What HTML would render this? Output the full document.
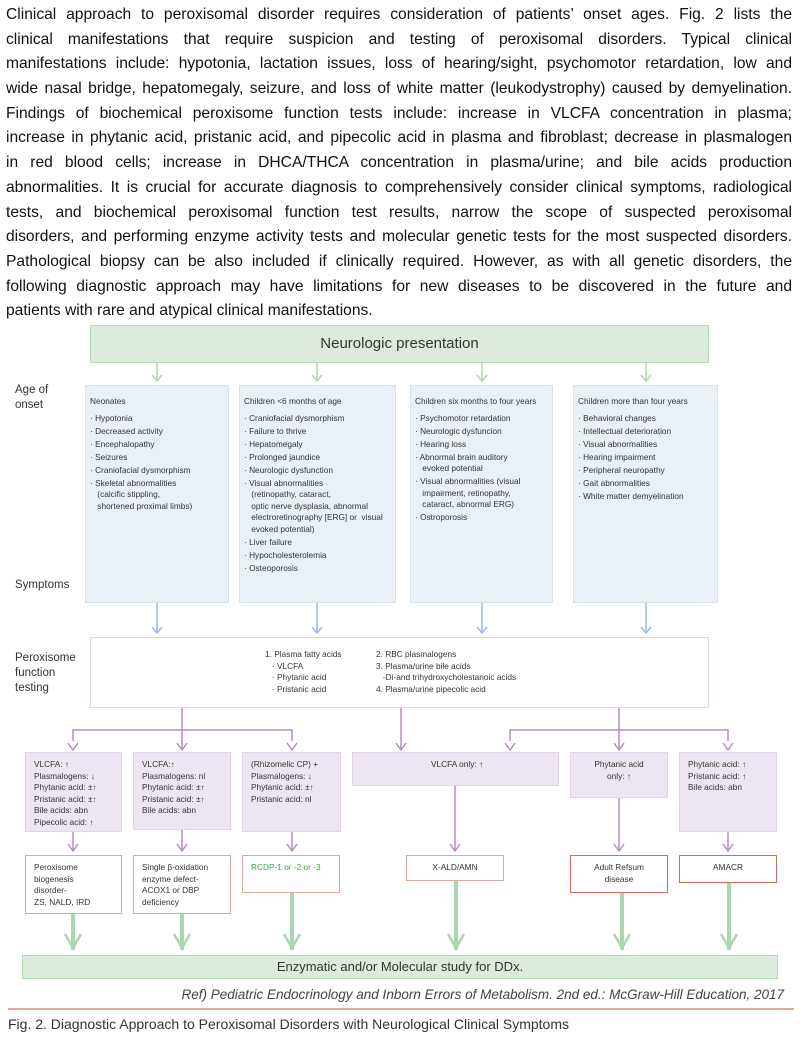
<!DOCTYPE html>
<html><head><meta charset="utf-8"><style>
body{margin:0;width:800px;height:1048px;background:#fff;position:relative;overflow:hidden;font-family:"Liberation Sans",Arial,sans-serif;color:#222}
.p{position:absolute;left:6px;width:786px;font-size:15.6px;line-height:24.7px;top:3px;color:#111}
.p div{text-align:justify;text-align-last:justify;white-space:nowrap;height:24.7px}
.p div.l{text-align-last:left}
.b{position:absolute;box-sizing:border-box;font-size:8.3px;line-height:11.5px;color:#333}
.sym{background:#eaf0f7;border:1px solid #d8e2ee;padding:10px 4px;white-space:nowrap}
.sym .h{margin-bottom:5px}
.sym .i{padding-left:5px;text-indent:-5px;margin-bottom:1.5px}
.lv3{background:#ede6f2;border:1px solid #e0d4ea;padding:6px 8px}
.lv4{background:#fff;border:1px solid #e6a49a;padding:6px 8px}
.lbl{position:absolute;font-size:11.5px;line-height:15px;color:#333;left:15px}
</style></head><body>
<div class="p">
<div>Clinical approach to peroxisomal disorder requires consideration of patients’ onset ages. Fig. 2 lists the</div>
<div>clinical manifestations that require suspicion and testing of peroxisomal disorders. Typical clinical</div>
<div>manifestations include: hypotonia, lactation issues, loss of hearing/sight, psychomotor retardation, low and</div>
<div>wide nasal bridge, hepatomegaly, seizure, and loss of white matter (leukodystrophy) caused by demyelination.</div>
<div>Findings of biochemical peroxisome function tests include: increase in VLCFA concentration in plasma;</div>
<div>increase in phytanic acid, pristanic acid, and pipecolic acid in plasma and fibroblast; decrease in plasmalogen</div>
<div>in red blood cells; increase in DHCA/THCA concentration in plasma/urine; and bile acids production</div>
<div>abnormalities. It is crucial for accurate diagnosis to comprehensively consider clinical symptoms, radiological</div>
<div>tests, and biochemical peroxisomal function test results, narrow the scope of suspected peroxisomal</div>
<div>disorders, and performing enzyme activity tests and molecular genetic tests for the most suspected disorders.</div>
<div>Pathological biopsy can be also included if clinically required. However, as with all genetic disorders, the</div>
<div>following diagnostic approach may have limitations for new diseases to be discovered in the future and</div>
<div class="l">patients with rare and atypical clinical manifestations.</div>
</div>

<div style="position:absolute;left:90px;top:325px;width:619px;height:38px;box-sizing:border-box;background:#dcebdc;border:1px solid #b5dcb9;text-align:center;font-size:15px;line-height:36px;color:#333">Neurologic presentation</div>

<svg style="position:absolute;left:0;top:0" width="800" height="1048">
<g stroke="#a8d8b0" stroke-width="1.5" fill="none">
<path d="M157 363V381M152 375L157 381L162 375"/><path d="M317 363V381M312 375L317 381L322 375"/>
<path d="M482 363V381M477 375L482 381L487 375"/><path d="M646 363V381M641 375L646 381L651 375"/>
</g>
<g stroke="#9bbde0" stroke-width="1.5" fill="none">
<path d="M157 603V633M152 627L157 633L162 627"/><path d="M317 603V633M312 627L317 633L322 627"/>
<path d="M482 603V633M477 627L482 633L487 627"/><path d="M646 603V633M641 627L646 633L651 627"/>
</g>
<g stroke="#b88cc4" stroke-width="1.5" fill="none">
<path d="M182 708V750M73 741V730H292V741"/>
<path d="M68 743L73 750L78 743M177 743L182 750L187 743M287 743L292 750L297 743"/>
<path d="M401 708V750M396 743L401 750L406 743"/>
<path d="M619 708V750M510 741V730H728V741"/>
<path d="M505 743L510 750L515 743M614 743L619 750L624 743M723 743L728 750L733 743"/>
<path d="M73 832V851M68 844L73 851L78 844M182 830V851M177 844L182 851L187 844"/>
<path d="M292 832V851M287 844L292 851L297 844M455 786V851M450 844L455 851L460 844"/>
<path d="M619 798V851M614 844L619 851L624 844M728 832V851M723 844L728 851L733 844"/>
</g>
<g stroke="#a8d8b0" stroke-width="4" fill="none">
<path d="M73 914V950M182 914V950M292 893V950M456 881V950M622 893V950M729 883V950"/>
</g>
<g stroke="#a8d8b0" stroke-width="2.5" fill="none" stroke-linejoin="miter">
<path d="M65 934L73 948L81 934M174 934L182 948L190 934M284 934L292 948L300 934M448 934L456 948L464 934M614 934L622 948L630 934M721 934L729 948L737 934"/>
</g>
<line x1="8" y1="1009" x2="794" y2="1009" stroke="#d4907f" stroke-width="1.5"/>
</svg>

<div class="lbl" style="top:383px">Age of<br>onset</div>
<div class="lbl" style="top:578px">Symptoms</div>
<div class="lbl" style="top:651px">Peroxisome<br>function<br>testing</div>

<div class="b sym" style="left:85px;top:385px;width:144px;height:218px">
<div class="h">Neonates</div>
<div class="i">· Hypotonia</div><div class="i">· Decreased activity</div><div class="i">· Encephalopathy</div><div class="i">· Seizures</div><div class="i">· Craniofacial dysmorphism</div><div class="i">· Skeletal abnormalities<br>&nbsp;(calcific stippling,<br>&nbsp;shortened proximal limbs)</div>
</div>
<div class="b sym" style="left:239px;top:385px;width:157px;height:218px">
<div class="h">Children &lt;6 months of age</div>
<div class="i">· Craniofacial dysmorphism</div><div class="i">· Failure to thrive</div><div class="i">· Hepatomegaly</div><div class="i">· Prolonged jaundice</div><div class="i">· Neurologic dysfunction</div><div class="i">· Visual abnormalities<br>&nbsp;(retinopathy, cataract,<br>&nbsp;optic nerve dysplasia, abnormal<br>&nbsp;electroretinography [ERG] or &nbsp;visual<br>&nbsp;evoked potential)</div><div class="i">· Liver failure</div><div class="i">· Hypocholesterolemia</div><div class="i">· Osteoporosis</div>
</div>
<div class="b sym" style="left:410px;top:385px;width:143px;height:218px">
<div class="h">Children six months to four years</div>
<div class="i">· Psychomotor retardation</div><div class="i">· Neurologic dysfuncion</div><div class="i">· Hearing loss</div><div class="i">· Abnormal brain auditory<br>&nbsp;evoked potential</div><div class="i">· Visual abnormalities (visual<br>&nbsp;impairment, retinopathy,<br>&nbsp;cataract, abnormal ERG)</div><div class="i">· Ostroporosis</div>
</div>
<div class="b sym" style="left:573px;top:385px;width:145px;height:218px">
<div class="h">Children more than four years</div>
<div class="i">· Behavioral changes</div><div class="i">· Intellectual deterioration</div><div class="i">· Visual abnormalities</div><div class="i">· Hearing impairment</div><div class="i">· Peripheral neuropathy</div><div class="i">· Gait abnormalities</div><div class="i">· White matter demyelination</div>
</div>

<div class="b" style="left:90px;top:637px;width:619px;height:71px;border:1px solid #e2d2ea"></div>
<div class="b" style="left:265px;top:649px;white-space:nowrap">1. Plasma fatty acids<br>&nbsp;&nbsp;&nbsp;· VLCFA<br>&nbsp;&nbsp;&nbsp;· Phytanic acid<br>&nbsp;&nbsp;&nbsp;· Pristanic acid</div>
<div class="b" style="left:376px;top:649px;white-space:nowrap">2. RBC plasmalogens<br>3. Plasma/urine bile acids<br>&nbsp;&nbsp;&nbsp;-Di-and trihydroxycholestanoic acids<br>4. Plasma/urine pipecolic acid</div>

<div class="b lv3" style="left:25px;top:752px;width:97px;height:80px">VLCFA: ↑<br>Plasmalogens: ↓<br>Phytanic acid: ±↑<br>Pristanic acid: ±↑<br>Bile acids: abn<br>Pipecolic acid: ↑</div>
<div class="b lv3" style="left:133px;top:752px;width:98px;height:78px">VLCFA:↑<br>Plasmalogens: nl<br>Phytanic acid: ±↑<br>Pristanic acid: ±↑<br>Bile acids: abn</div>
<div class="b lv3" style="left:242px;top:752px;width:99px;height:80px">(Rhizomelic CP) +<br>Plasmalogens: ↓<br>Phytanic acid: ±↑<br>Pristanic acid: nl</div>
<div class="b lv3" style="left:352px;top:752px;width:207px;height:34px;padding-left:78px">VLCFA only: ↑</div>
<div class="b lv3" style="left:570px;top:752px;width:98px;height:46px;text-align:center">Phytanic acid<br>only: ↑</div>
<div class="b lv3" style="left:679px;top:752px;width:98px;height:80px">Phytanic acid: ↑<br>Pristanic acid: ↑<br>Bile acids: abn</div>

<div class="b lv4" style="left:25px;top:855px;width:97px;height:59px">Peroxisome<br>biogenesis<br>disorder-<br>ZS, NALD, IRD</div>
<div class="b lv4" style="left:133px;top:855px;width:98px;height:59px">Single β-oxidation<br>enzyme defect-<br>ACOX1 or DBP<br>deficiency</div>
<div class="b lv4" style="left:242px;top:855px;width:98px;height:38px;color:#3aa64a">RCDP-1 or -2 or -3</div>
<div class="b lv4" style="left:406px;top:855px;width:98px;height:26px;text-align:center">X-ALD/AMN</div>
<div class="b lv4" style="left:570px;top:855px;width:98px;height:38px;text-align:center;border-color:#d46a5c">Adult Refsum<br>disease</div>
<div class="b lv4" style="left:679px;top:855px;width:98px;height:28px;text-align:center;border-color:#d46a5c">AMACR</div>

<div style="position:absolute;left:22px;top:955px;width:756px;height:24px;box-sizing:border-box;background:#dcebdc;border:1px solid #b5dcb9;text-align:center;font-size:13px;line-height:22px;color:#333">Enzymatic and/or Molecular study for DDx.</div>
<div style="position:absolute;right:16px;top:987px;font-size:13.5px;font-style:italic;color:#444">Ref) Pediatric Endocrinology and Inborn Errors of Metabolism. 2nd ed.: McGraw-Hill Education, 2017</div>
<div style="position:absolute;left:8px;top:1016px;font-size:14px;color:#333">Fig. 2. Diagnostic Approach to Peroxisomal Disorders with Neurological Clinical Symptoms</div>
</body></html>
